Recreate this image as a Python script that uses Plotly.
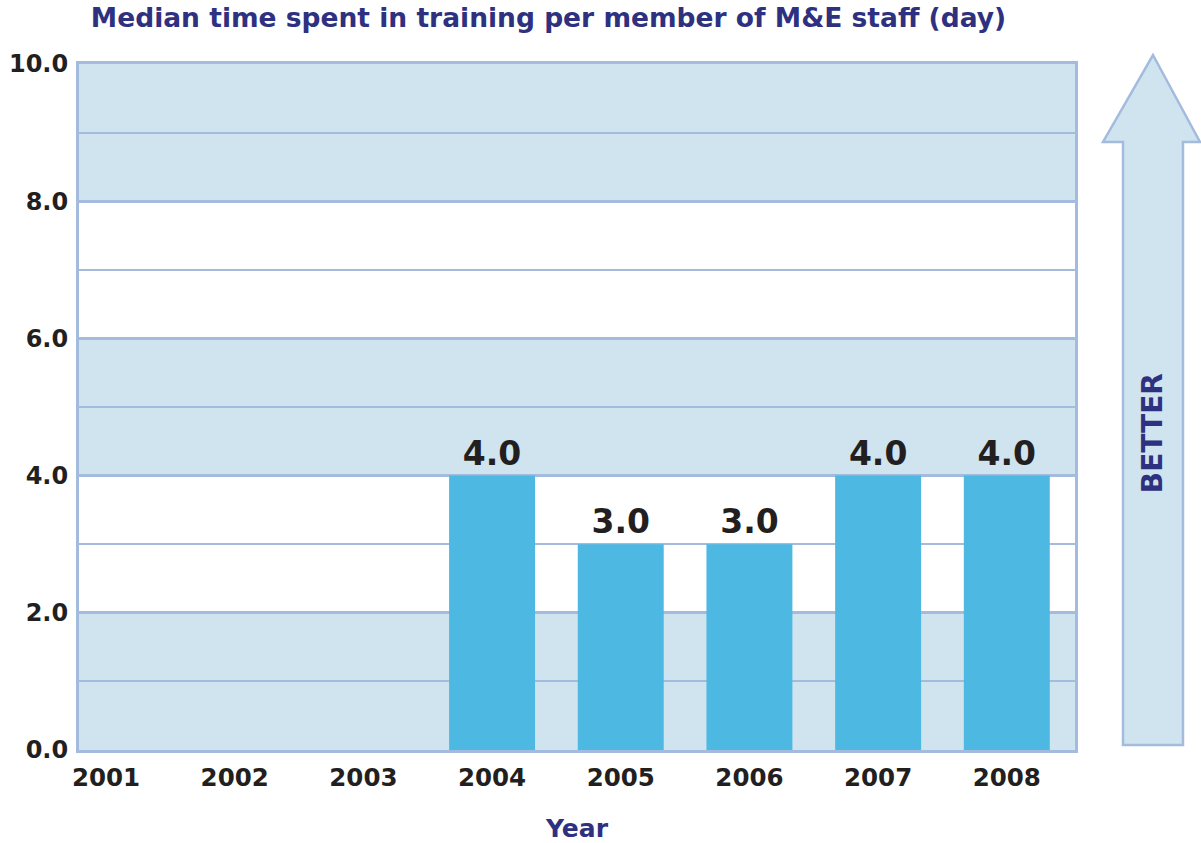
import plotly.graph_objects as go

# ---- data ----
years = [2001, 2002, 2003, 2004, 2005, 2006, 2007, 2008]
median_days = [None, None, None, 4.0, 3.0, 3.0, 4.0, 4.0]
y_ticks = [0, 2, 4, 6, 8, 10]
shaded_bands = [(0, 2), (4, 6), (8, 10)]

TITLE = "Median time spent in training per member of M&E staff (day)"
X_TITLE = "Year"
ARROW_TEXT = "BETTER"

NAVY = "#2e3180"
INK = "#231f20"
BAND = "#cfe4ef"
GRID = "#a3bbdd"
BAR = "#4db9e3"
FONT = "DejaVu Sans"

fig = go.Figure()
fig.add_trace(go.Bar(
    x=years, y=median_days,
    marker=dict(color=BAR, line=dict(width=0)),
    width=0.668,
    text=[None if v is None else f"{v:.1f}" for v in median_days],
    textposition="outside",
    textfont=dict(family=FONT, size=33, color=INK, weight="bold"),
    cliponaxis=False,
    hoverinfo="skip",
))

for lo, hi in shaded_bands:
    fig.add_shape(type="rect", xref="paper", yref="y", x0=0, x1=1, y0=lo, y1=hi,
                  fillcolor=BAND, line=dict(width=0), layer="below")

# "BETTER" arrow (decoration, paper coordinates)
arrow_path = ("M 1.0482 0.0073 L 1.0482 0.8863 L 1.0281 0.8863 L 1.0783 1.0131 "
              "L 1.1255 0.8863 L 1.1084 0.8863 L 1.1084 0.0073 Z")
fig.add_shape(type="path", xref="paper", yref="paper", path=arrow_path,
              fillcolor=BAND, line=dict(color=GRID, width=2.5), layer="above")
fig.add_annotation(xref="paper", yref="paper", x=1.096, y=0.462, text=f"<b>{ARROW_TEXT}</b>",
                   showarrow=False, textangle=-90,
                   font=dict(family=FONT, size=28, color=NAVY))

fig.update_layout(
    width=1201, height=843,
    margin=dict(l=79, r=126, t=64, b=93, autoexpand=False),
    paper_bgcolor="white", plot_bgcolor="white",
    showlegend=False,
    title=dict(text=f"<b>{TITLE}</b>", x=0.4567, xanchor="center",
               y=1 - 18 / 843, yanchor="middle", yref="container",
               font=dict(family=FONT, size=26.5, color=NAVY)),
)
fig.update_xaxes(
    range=[2000.79, 2008.53], tickvals=years, ticktext=[str(y) for y in years],
    showgrid=False, zeroline=False, ticks="", automargin=False,
    tickfont=dict(family=FONT, size=24.5, color=INK, weight="bold"),
    ticklabelstandoff=4,
    showline=True, mirror=True, linecolor=GRID, linewidth=3,
    title=dict(text=f"<b>{X_TITLE}</b>", font=dict(family=FONT, size=25, color=NAVY), standoff=35),
)
fig.update_yaxes(
    range=[0, 10], tickvals=y_ticks, ticktext=[f"{v:.1f}" for v in y_ticks],
    showgrid=True, gridcolor=GRID, gridwidth=3, zeroline=False, ticks="", automargin=False,
    minor=dict(dtick=1, showgrid=True, gridcolor=GRID, gridwidth=1.5),
    tickfont=dict(family=FONT, size=24, color=INK, weight="bold"),
    ticklabelstandoff=3,
    showline=True, mirror=True, linecolor=GRID, linewidth=3,
)

fig.write_html("out.html", config={"displayModeBar": False},
               post_script="document.body.style.margin='0';")
